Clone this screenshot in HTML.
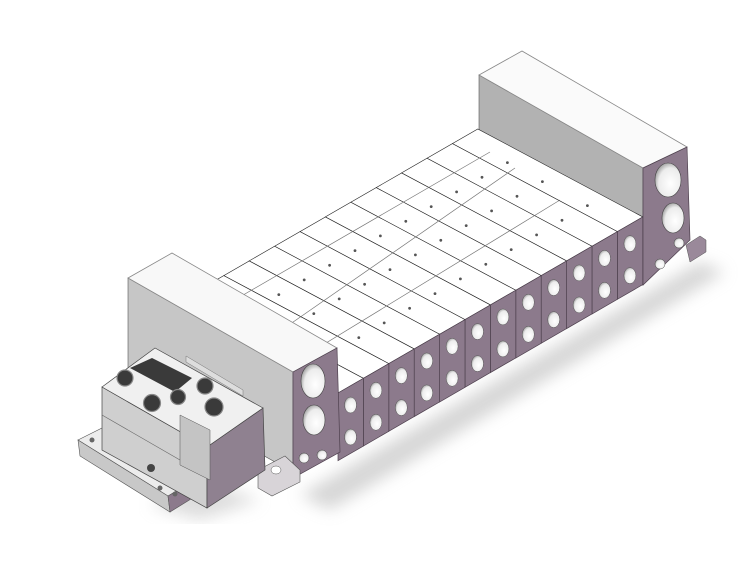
<!DOCTYPE html>
<html><head><meta charset="utf-8"><style>html,body{margin:0;padding:0;background:#fff}svg{display:block}</style></head>
<body>
<svg width="744" height="575" viewBox="0 0 744 575" xmlns="http://www.w3.org/2000/svg">
<defs>
<radialGradient id="hole" cx="0.6" cy="0.6" r="0.7"><stop offset="0" stop-color="#ffffff"/><stop offset="0.65" stop-color="#ececec"/><stop offset="1" stop-color="#888"/></radialGradient>
<filter id="blur"><feGaussianBlur stdDeviation="8"/></filter>
<g id="st">
  <polygon points="0,0 25.4,-14.67 -139.6,-102.67 -165,-88" fill="#fff" stroke="#222" stroke-width="0.6"/>
  <polygon points="0,0 25.4,-14.67 25.4,53 0,67.7" fill="#8c7a8c" stroke="#4e404e" stroke-width="0.7"/>
  <ellipse cx="12.5" cy="12" rx="6" ry="8" fill="url(#hole)" stroke="#555" stroke-width="0.5"/>
  <ellipse cx="12.5" cy="44" rx="6" ry="8" fill="url(#hole)" stroke="#555" stroke-width="0.5"/>
  <circle cx="-30" cy="-26" r="1.4" fill="#555"/>
  <circle cx="-75" cy="-50" r="1.4" fill="#555"/>
  <circle cx="-110" cy="-69" r="1.4" fill="#555"/>
</g>
</defs>
<polygon points="300,495 700,262 725,272 330,510" fill="#bbb" filter="url(#blur)" opacity="0.6"/>
<polygon points="150,505 200,520 260,500 200,480" fill="#bbb" filter="url(#blur)" opacity="0.5"/>
<polygon points="479,75 643,168 643,285 479,170" fill="#b2b2b2" stroke="#555" stroke-width="0.6"/>
<polygon points="479,75 522,51 687,147 643,168" fill="#fafafa" stroke="#888" stroke-width="0.8"/>
<polygon points="173,305 478,133 478,150 173,322" fill="#fff"/>
<use href="#st" transform="translate(617.4,231.6)"/>
<use href="#st" transform="translate(592,246.3)"/>
<use href="#st" transform="translate(566.6,260.9)"/>
<use href="#st" transform="translate(541.2,275.6)"/>
<use href="#st" transform="translate(515.8,290.3)"/>
<use href="#st" transform="translate(490.4,304.9)"/>
<use href="#st" transform="translate(465,319.6)"/>
<use href="#st" transform="translate(439.6,334.3)"/>
<use href="#st" transform="translate(414.2,348.9)"/>
<use href="#st" transform="translate(388.8,363.6)"/>
<use href="#st" transform="translate(363.4,378.3)"/>
<use href="#st" transform="translate(338,393)"/>
<line x1="200" y1="320" x2="490" y2="152" stroke="#777" stroke-width="0.7"/>
<line x1="260" y1="345" x2="515" y2="168" stroke="#777" stroke-width="0.7"/>
<line x1="290" y1="365" x2="560" y2="200" stroke="#777" stroke-width="0.7"/>
<polygon points="643,168 687,147 690,240 643,285" fill="#8c7a8c" stroke="#4e404e" stroke-width="0.7"/>
<polygon points="686,245 700,236 706,240 706,252 690,262" fill="#9a899a" stroke="#555" stroke-width="0.5"/>
<ellipse cx="668" cy="180" rx="13" ry="17" fill="url(#hole)" stroke="#444" stroke-width="0.6"/>
<ellipse cx="673" cy="218" rx="11" ry="15" fill="url(#hole)" stroke="#444" stroke-width="0.6"/>
<circle cx="679" cy="243" r="5" fill="url(#hole)" stroke="#444" stroke-width="0.5"/>
<circle cx="660" cy="264" r="5" fill="url(#hole)" stroke="#444" stroke-width="0.5"/>
<polygon points="128,278 293,372 293,472 128,380" fill="#c6c6c6" stroke="#555" stroke-width="0.6"/>
<polygon points="128,278 172,253 337,348 293,372" fill="#f8f8f8" stroke="#888" stroke-width="0.8"/>
<polygon points="293,372 337,348 340,452 293,478" fill="#8c7a8c" stroke="#4e404e" stroke-width="0.7"/>
<ellipse cx="313" cy="381" rx="12" ry="17" fill="url(#hole)" stroke="#444" stroke-width="0.6"/>
<ellipse cx="314" cy="420" rx="11" ry="15" fill="url(#hole)" stroke="#444" stroke-width="0.6"/>
<circle cx="304" cy="458" r="5" fill="url(#hole)" stroke="#444" stroke-width="0.5"/>
<circle cx="322" cy="455" r="5" fill="url(#hole)" stroke="#444" stroke-width="0.5"/>
<polygon points="258,470 285,456 300,470 300,482 272,496 258,488" fill="#d8d4d8" stroke="#555" stroke-width="0.6"/>
<ellipse cx="276" cy="470" rx="5" ry="4" fill="#fff" stroke="#555" stroke-width="0.5"/>
<polygon points="78,440 122,418 212,470 168,496" fill="#ececec" stroke="#555" stroke-width="0.6"/>
<polygon points="78,440 168,496 170,512 80,456" fill="#c8c8c8" stroke="#555" stroke-width="0.6"/>
<polygon points="168,496 212,470 212,486 170,512" fill="#8c7a8c" stroke="#555" stroke-width="0.6"/>
<circle cx="92" cy="440" r="2.5" fill="#666"/><circle cx="160" cy="488" r="2.5" fill="#666"/><circle cx="175" cy="494" r="2.5" fill="#666"/>
<polygon points="102,387 207,447 207,508 102,450" fill="#cfcfcf" stroke="#444" stroke-width="0.7"/>
<polygon points="207,447 263,408 265,470 207,508" fill="#8f8190" stroke="#444" stroke-width="0.7"/>
<polygon points="102,387 155,348 263,408 207,447" fill="#f0f0f0" stroke="#444" stroke-width="0.7"/>
<line x1="102" y1="415" x2="180" y2="460" stroke="#666" stroke-width="0.6"/>
<polygon points="180,415 210,430 210,480 180,465" fill="#c4c4c4" stroke="#555" stroke-width="0.5"/>
<polygon points="130,368 152,358 192,378 175,392" fill="#3a3a3a"/>
<g fill="#3a3a3a" stroke="#888" stroke-width="1.2">
<circle cx="125" cy="378" r="8"/><circle cx="152" cy="403" r="8.5"/><circle cx="178" cy="397" r="7.5"/><circle cx="205" cy="386" r="8"/><circle cx="214" cy="407" r="9"/>
</g>
<circle cx="151" cy="468" r="4" fill="#444"/>
<polygon points="186,356 243,390 243,396 186,362" fill="#ddd" stroke="#777" stroke-width="0.5"/>
</svg>
</body></html>
